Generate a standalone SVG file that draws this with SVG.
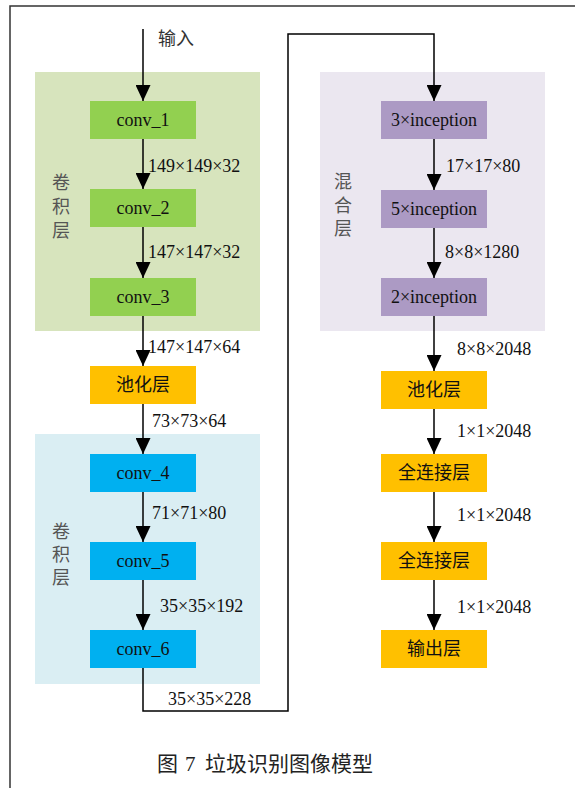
<svg xmlns="http://www.w3.org/2000/svg" width="575" height="788" viewBox="0 0 575 788">
<style>
.t{font-family:"Liberation Serif","Noto Sans CJK SC",serif;font-size:18px;fill:#111}
.c{text-anchor:middle}
.s{font-family:"Liberation Serif","Noto Sans CJK SC",serif;font-size:18px;fill:#555;text-anchor:middle}
.ln{fill:none;stroke:#000;stroke-width:1.5}
.g{fill:#92D050}.o{fill:#FFC000}.b{fill:#00B0F0}.p{fill:#AC9AC4}
</style>
<defs>
<marker id="ah" viewBox="0 0 16 15" refX="16" refY="7.5" markerWidth="16" markerHeight="15" orient="auto" markerUnits="userSpaceOnUse">
<path d="M0,0 L16,7.5 L0,15 z" fill="#000"/>
</marker>
</defs>
<rect width="575" height="788" fill="#fff"/>
<path d="M10,788 V6 H575" fill="none" stroke="#333" stroke-width="1.5"/>
<g id="bg">
<rect x="35" y="72" width="225" height="259" fill="#D7E4BD"/>
<rect x="35" y="434" width="225" height="250" fill="#DAEEF3"/>
<rect x="320" y="72" width="225" height="259" fill="#EBE7F0"/>
</g>
<g id="side-labels">
<text class="s" x="61" y="189">卷</text><text class="s" x="61" y="213">积</text><text class="s" x="61" y="237">层</text>
<text class="s" x="61" y="538">卷</text><text class="s" x="61" y="561">积</text><text class="s" x="61" y="584">层</text>
<text class="s" x="343" y="188">混</text><text class="s" x="343" y="212">合</text><text class="s" x="343" y="235">层</text>
</g>
<g id="connectors">
<line class="ln" x1="143" y1="29" x2="143" y2="101" marker-end="url(#ah)"/>
<line class="ln" x1="143" y1="139" x2="143" y2="189" marker-end="url(#ah)"/>
<line class="ln" x1="143" y1="227" x2="143" y2="278" marker-end="url(#ah)"/>
<line class="ln" x1="143" y1="316" x2="143" y2="366" marker-end="url(#ah)"/>
<line class="ln" x1="143" y1="404" x2="143" y2="454" marker-end="url(#ah)"/>
<line class="ln" x1="143" y1="492" x2="143" y2="542" marker-end="url(#ah)"/>
<line class="ln" x1="143" y1="580" x2="143" y2="630" marker-end="url(#ah)"/>
<polyline class="ln" points="143,668 143,711 288,711 288,34 434,34 434,101" marker-end="url(#ah)"/>
<line class="ln" x1="434" y1="139" x2="434" y2="190" marker-end="url(#ah)"/>
<line class="ln" x1="434" y1="228" x2="434" y2="278" marker-end="url(#ah)"/>
<line class="ln" x1="434" y1="316" x2="434" y2="371" marker-end="url(#ah)"/>
<line class="ln" x1="434" y1="409" x2="434" y2="454" marker-end="url(#ah)"/>
<line class="ln" x1="434" y1="492" x2="434" y2="542" marker-end="url(#ah)"/>
<line class="ln" x1="434" y1="580" x2="434" y2="630" marker-end="url(#ah)"/>
</g>
<g id="edge-labels">
<text class="t" x="158" y="45" style="fill:#333">输入</text>
<text class="t" x="148" y="172">149×149×32</text>
<text class="t" x="148" y="258">147×147×32</text>
<text class="t" x="148" y="353">147×147×64</text>
<text class="t" x="152" y="427">73×73×64</text>
<text class="t" x="152" y="519">71×71×80</text>
<text class="t" x="160" y="612">35×35×192</text>
<text class="t" x="168" y="705">35×35×228</text>
<text class="t" x="446" y="172">17×17×80</text>
<text class="t" x="445" y="258">8×8×1280</text>
<text class="t" x="457" y="355">8×8×2048</text>
<text class="t" x="457" y="437">1×1×2048</text>
<text class="t" x="457" y="521">1×1×2048</text>
<text class="t" x="457" y="613">1×1×2048</text>
</g>
<g id="conv_1"><rect class="g" x="90" y="101" width="106" height="38"/><text class="t c" x="143" y="126">conv_1</text></g>
<g id="conv_2"><rect class="g" x="90" y="189" width="106" height="38"/><text class="t c" x="143" y="214">conv_2</text></g>
<g id="conv_3"><rect class="g" x="90" y="278" width="106" height="38"/><text class="t c" x="143" y="303">conv_3</text></g>
<g id="pool_1"><rect class="o" x="90" y="366" width="106" height="38"/><text class="t c" x="143" y="391">池化层</text></g>
<g id="conv_4"><rect class="b" x="90" y="454" width="106" height="38"/><text class="t c" x="143" y="479">conv_4</text></g>
<g id="conv_5"><rect class="b" x="90" y="542" width="106" height="38"/><text class="t c" x="143" y="567">conv_5</text></g>
<g id="conv_6"><rect class="b" x="90" y="630" width="106" height="38"/><text class="t c" x="143" y="655">conv_6</text></g>
<g id="inc_3"><rect class="p" x="381" y="101" width="106" height="38"/><text class="t c" x="434" y="126">3×inception</text></g>
<g id="inc_5"><rect class="p" x="381" y="190" width="106" height="38"/><text class="t c" x="434" y="215">5×inception</text></g>
<g id="inc_2"><rect class="p" x="381" y="278" width="106" height="38"/><text class="t c" x="434" y="303">2×inception</text></g>
<g id="pool_2"><rect class="o" x="381" y="371" width="106" height="38"/><text class="t c" x="434" y="396">池化层</text></g>
<g id="fc_1"><rect class="o" x="381" y="454" width="106" height="38"/><text class="t c" x="434" y="479">全连接层</text></g>
<g id="fc_2"><rect class="o" x="381" y="542" width="106" height="38"/><text class="t c" x="434" y="567">全连接层</text></g>
<g id="output"><rect class="o" x="381" y="630" width="106" height="38"/><text class="t c" x="434" y="655">输出层</text></g>
<g id="caption" style="font-family:'Liberation Serif','Noto Sans CJK SC',serif;font-size:21px;fill:#222">
<text x="157" y="771">图</text>
<text x="185" y="771">7</text>
<text x="205" y="771">垃圾识别图像模型</text>
</g>
</svg>
